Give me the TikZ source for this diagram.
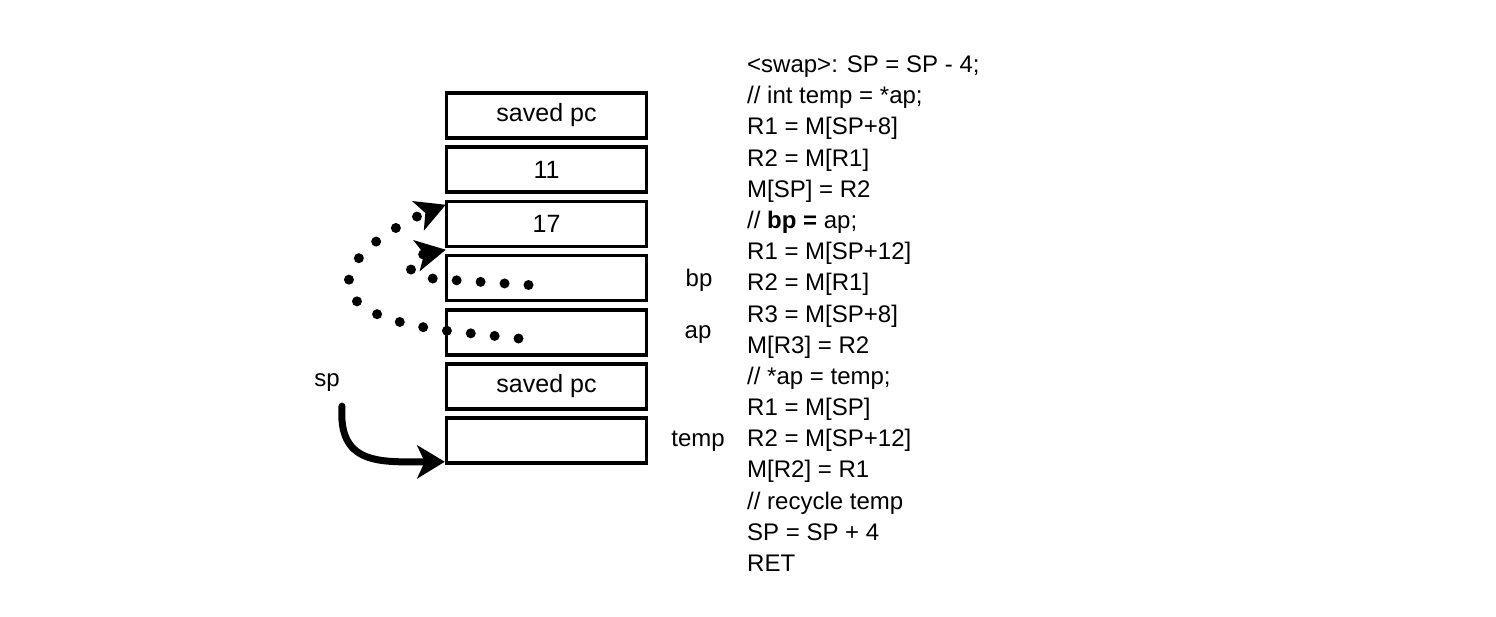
\documentclass[tikz,border=0pt]{standalone}
\usepackage{fontspec}
\setmainfont{Liberation Sans}
\usetikzlibrary{arrows.meta,calc}
\begin{document}
\begin{tikzpicture}[x=1pt,y=-1pt,
  cell/.style={draw=black,line width=3.5pt,fill=white,minimum width=200pt,minimum height=45pt,inner sep=0pt,font=\fontsize{25}{29}\selectfont},
  lbl/.style={font=\fontsize{24}{28}\selectfont,inner sep=0pt},
  codeline/.style={font=\fontsize{24}{28}\selectfont,inner sep=0pt,anchor=base west},
  dotarrow/.style={line width=10pt,line cap=round,dash pattern=on 0pt off 24pt,
     -{Stealth[length=30pt,width=32pt,inset=8pt,line width=0pt]}},
  sparrow/.style={line width=7pt,line cap=round,-{Stealth[length=28pt,width=34pt,inset=8pt,line width=0pt]}}]
\useasboundingbox (0,0) rectangle (1496,616);
% stack cells
\node[cell] (pc1)  at (546.5,115.5) {saved pc};
\node[cell] (v11)  at (546.5,169.5) {11};
\node[cell] (v17)  at (546.5,224) {17};
\node[cell] (bp)   at (546.5,278) {};
\node[cell] (ap)   at (546.5,332.5) {};
\node[cell] (pc2)  at (546.5,386.5) {saved pc};
\node[cell] (temp) at (546.5,440.5) {};
% side labels
\node[lbl] (lbp)   at (699,280) {bp};
\node[lbl] (lap)   at (698,335) {ap};
\node[lbl] (ltemp) at (698,441) {temp};
\node[lbl] (lsp)   at (327,383) {sp};
% pointers
\coordinate (apstart) at ($(ap.center)+(-28,6)$);
\coordinate (bpstart) at ($(bp.center)+(-18,7)$);
\draw[dotarrow] (apstart) -- ($(ap.west)+(0,-2)$)
   .. controls (380,322) and (345,305) .. (349,279)
   .. controls (352,250) and (405,221) .. ($(v17.north west)+(1,5)$);
\draw[dotarrow] (bpstart) -- ($(bp.west)+(-8,1)$)
   .. controls (405,276) and (400,259) .. ($(bp.north west)+(1,-4)$);
\coordinate (spstart) at ($(lsp.south)+(15,14)$);
\draw[sparrow] (spstart) .. controls (338,465) and (380,462) .. ($(temp.south west)+(0,-3)$);
% code
\foreach \t [count=\i from 0] in {
  {<swap>: SP = SP - 4;},
  {// int temp = *ap;},
  {R1 = M[SP+8]},
  {R2 = M[R1]},
  {M[SP] = R2},
  {// \textbf{bp =} ap;},
  {R1 = M[SP+12]},
  {R2 = M[R1]},
  {R3 = M[SP+8]},
  {M[R3] = R2},
  {// *ap = temp;},
  {R1 = M[SP]},
  {R2 = M[SP+12]},
  {M[R2] = R1},
  {// recycle temp},
  {SP = SP + 4},
  {RET}}{
  \node[codeline] (code\i) at (747,{72.5+31.19*\i}) {\t};
}
\end{tikzpicture}
\end{document}
